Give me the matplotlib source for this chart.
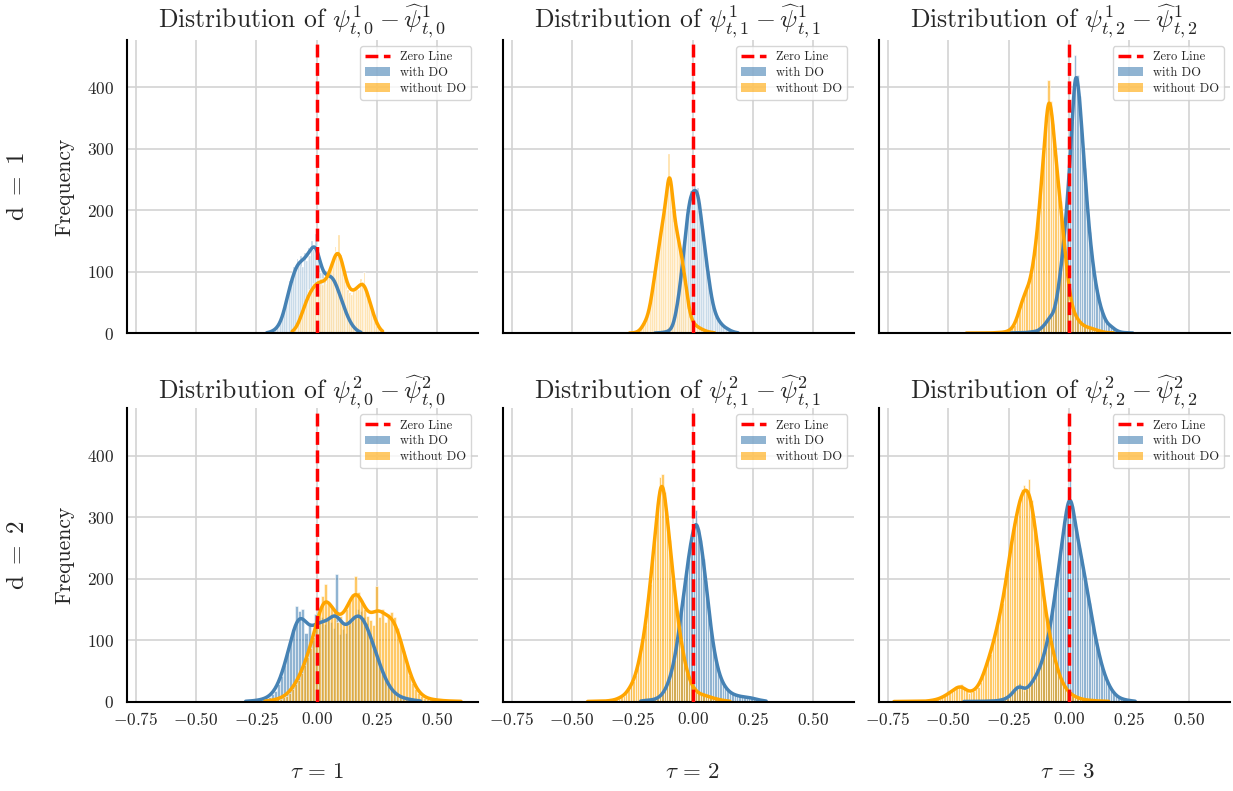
import numpy as np
import seaborn as sns
import matplotlib.pyplot as plt
from matplotlib.lines import Line2D
from matplotlib.patches import Patch

# histogram counts; *_start = left edge of first bin
# d = 1, tau = 1
w_d1_t1_start = -0.21
w_d1_t1 = [1, 1, 2, 3, 5, 6, 9, 14, 18, 30, 38, 55, 68, 85, 80, 108, 102, 120, 112, 125,
           108, 130, 118, 138, 126, 150, 135, 162, 140, 120, 98, 104, 88, 97, 90, 100, 88, 96, 80, 76,
           64, 58, 48, 40, 30, 25, 18, 13, 9, 6, 4, 2, 1]
wo_d1_t1_start = -0.105
wo_d1_t1 = [1, 3, 6, 10, 18, 28, 38, 46, 55, 64, 70, 68, 80, 76, 90, 82, 88, 78, 86, 80,
            92, 100, 112, 120, 140, 132, 160, 128, 110, 92, 80, 70, 66, 62, 72, 68, 76, 70, 88, 84,
            98, 72, 58, 48, 40, 30, 20, 12, 7, 3, 1]

# d = 1, tau = 2
w_d1_t2_start = -0.16
w_d1_t2 = [1, 0, 1, 1, 1, 2, 2, 3, 4, 7, 12, 22, 40, 55, 80, 104, 135, 162, 196, 210,
           232, 226, 240, 228, 236, 198, 180, 150, 128, 106, 86, 62, 48, 36, 28, 22, 18, 14, 12, 8,
           9, 5, 4, 3, 2, 1, 1]
wo_d1_t2_start = -0.265
wo_d1_t2 = [1, 0, 1, 1, 2, 3, 6, 10, 16, 20, 28, 38, 56, 75, 96, 118, 138, 158, 172, 196,
            210, 238, 292, 248, 214, 180, 168, 154, 140, 125, 102, 82, 56, 38, 24, 18, 14, 12, 10, 8,
            7, 5, 4, 3, 2, 2, 1, 1]

# d = 1, tau = 3
w_d1_t3_start = -0.26
w_d1_t3 = [1, 0, 1, 0, 1, 1, 1, 1, 1, 2, 2, 3, 3, 5, 8, 12, 16, 24, 28, 30,
           45, 66, 100, 130, 175, 220, 280, 345, 452, 420, 385, 325, 268, 215, 165, 128, 96, 72, 53, 38,
           28, 18, 14, 12, 8, 5, 3, 2, 1, 1, 1, 0, 1]
wo_d1_t3_start = -0.43
wo_d1_t3 = [1, 0, 0, 1, 0, 0, 1, 0, 1, 1, 0, 1, 1, 1, 1, 2, 2, 3, 5, 8,
            14, 24, 38, 52, 62, 72, 78, 96, 118, 150, 190, 238, 290, 340, 412, 378, 340, 290, 245, 215,
            172, 130, 90, 60, 40, 30, 24, 18, 14, 12, 10, 9, 8, 7, 5, 4, 3, 2, 1, 1, 1, 1]

# d = 2, tau = 1
w_d2_t1_start = -0.30
w_d2_t1 = [1, 1, 1, 2, 2, 3, 4, 6, 8, 12, 18, 28, 42, 60, 78, 100, 118, 155, 148, 150,
           112, 128, 100, 142, 120, 138, 126, 132, 130, 120, 208, 110, 118, 112, 124, 130, 140, 150, 148, 138,
           128, 112, 100, 82, 66, 52, 38, 28, 20, 14, 10, 8, 6, 5, 4, 3, 2, 2, 1]
wo_d2_t1_start = -0.22
wo_d2_t1 = [1, 1, 2, 3, 4, 5, 7, 10, 14, 20, 28, 36, 46, 60, 72, 88, 105, 120, 150, 172,
            192, 160, 155, 148, 130, 140, 128, 150, 162, 175, 205, 178, 165, 150, 140, 132, 125, 188, 138, 150,
            130, 142, 145, 138, 120, 100, 82, 62, 44, 30, 20, 14, 9, 6, 5, 4, 3, 3, 2, 2,
            1, 1, 1, 1, 1, 1]

# d = 2, tau = 2
w_d2_t2_start = -0.22
w_d2_t2 = [1, 2, 2, 2, 3, 3, 4, 6, 8, 12, 18, 26, 36, 50, 68, 90, 118, 150, 182, 210,
           240, 265, 285, 312, 280, 262, 232, 196, 158, 122, 92, 70, 52, 40, 30, 24, 19, 15, 13, 11,
           10, 9, 8, 8, 7, 7, 6, 5, 4, 3, 2, 2, 1]
wo_d2_t2_start = -0.44
wo_d2_t2 = [1, 0, 1, 1, 1, 1, 1, 1, 1, 2, 2, 3, 4, 6, 8, 10, 14, 20, 26, 34,
            44, 60, 80, 98, 125, 158, 192, 235, 270, 312, 365, 370, 340, 300, 262, 220, 182, 148, 118, 92,
            70, 52, 38, 28, 22, 17, 14, 12, 11, 10, 9, 7, 6, 5, 4, 3, 2, 2, 1, 1]

# d = 2, tau = 3
w_d2_t3_start = -0.44
w_d2_t3 = [1, 0, 1, 0, 1, 0, 1, 1, 0, 1, 1, 1, 1, 1, 2, 2, 3, 4, 6, 9,
           12, 18, 26, 30, 22, 18, 20, 24, 30, 36, 42, 50, 60, 72, 85, 104, 125, 150, 180, 210,
           240, 268, 300, 320, 382, 318, 290, 265, 250, 232, 205, 185, 160, 135, 115, 95, 76, 60, 47, 36,
           27, 20, 14, 10, 7, 5, 4, 3, 2, 2, 1, 1]
wo_d2_t3_start = -0.73
wo_d2_t3 = [1, 0, 0, 1, 0, 0, 1, 0, 1, 0, 1, 1, 0, 1, 1, 2, 2, 3, 4, 5,
            7, 9, 12, 14, 17, 20, 24, 26, 28, 22, 18, 14, 16, 17, 20, 24, 32, 42, 55, 68,
            78, 92, 108, 125, 142, 160, 182, 210, 240, 268, 290, 305, 330, 345, 352, 342, 362, 328, 300, 270,
            240, 205, 172, 140, 118, 100, 80, 62, 48, 38, 28, 22, 17, 13, 10, 8, 7, 5, 4, 3,
            3, 2, 2, 2, 1, 1, 1, 1, 1, 1]

bin_widths = [[0.0075, 0.0075, 0.01], [0.0125, 0.01, 0.01]]
edge_widths = [[1.25, 1.25, 0.8], [0.6, 0.7, 0.7]]

series = [
    [(w_d1_t1_start, w_d1_t1, wo_d1_t1_start, wo_d1_t1),
     (w_d1_t2_start, w_d1_t2, wo_d1_t2_start, wo_d1_t2),
     (w_d1_t3_start, w_d1_t3, wo_d1_t3_start, wo_d1_t3)],
    [(w_d2_t1_start, w_d2_t1, wo_d2_t1_start, wo_d2_t1),
     (w_d2_t2_start, w_d2_t2, wo_d2_t2_start, wo_d2_t2),
     (w_d2_t3_start, w_d2_t3, wo_d2_t3_start, wo_d2_t3)],
]

xticks = [-0.75, -0.5, -0.25, 0.0, 0.25, 0.5]
yticks = [0, 100, 200, 300, 400]

sns.set_style('whitegrid')
plt.rcParams['font.family'] = 'serif'
plt.rcParams['font.serif'] = ['cmr10']
plt.rcParams['mathtext.fontset'] = 'cm'
plt.rcParams['axes.formatter.use_mathtext'] = True


def draw_hist(ax, start, counts, bw, color, elw):
    counts = np.asarray(counts, dtype=float)
    edges = start + bw * np.arange(len(counts) + 1)
    centers = edges[:-1] + bw / 2
    ax.hist(centers, bins=edges, weights=counts, color=color, alpha=0.6,
            edgecolor='white', linewidth=elw)
    # gaussian kde (scott bandwidth on the raw sample count), scaled to counts like seaborn
    n = counts.sum()
    mean = (counts * centers).sum() / n
    sd = np.sqrt((counts * (centers - mean) ** 2).sum() / (n - 1))
    h = sd * n ** (-0.2)
    grid = np.linspace(centers[0], centers[-1], 300)
    k = np.exp(-0.5 * ((grid[:, None] - centers[None, :]) / h) ** 2) / (np.sqrt(2 * np.pi) * h)
    curve = (k * counts[None, :]).sum(axis=1) * bw
    ax.plot(grid, curve, color=color, linewidth=2.5)


fig = plt.figure(figsize=(12.33, 7.91), dpi=100)
col_left = [126.7, 502.7, 879.0]
row_bottom = [333.3, 701.7]
W, H = 351.0, 293.5
FW, FH = 1233.0, 791.0

for r in range(2):
    for c in range(3):
        ax = fig.add_axes([col_left[c] / FW, 1 - row_bottom[r] / FH, W / FW, H / FH])
        ws, wc, os_, oc = series[r][c]
        draw_hist(ax, ws, wc, bin_widths[r][c], 'steelblue', edge_widths[r][c])
        draw_hist(ax, os_, oc, bin_widths[r][c], 'orange', edge_widths[r][c])
        ax.axvline(0, color='red', linestyle='--', linewidth=2.5, zorder=5)

        ax.set_xlim(-0.787, 0.668)
        ax.set_ylim(0, 477)
        ax.set_xticks(xticks)
        ax.set_yticks(yticks)
        ax.set_axisbelow(True)
        ax.grid(True, color='#d3d3d3', linewidth=1.2)
        ax.tick_params(axis='both', length=0, labelsize=12.5)
        ax.tick_params(axis='y', pad=9)
        ax.tick_params(axis='x', pad=7)
        ax.spines['top'].set_visible(False)
        ax.spines['right'].set_visible(False)
        for s in ['left', 'bottom']:
            ax.spines[s].set_color('black')
            ax.spines[s].set_linewidth(1.5)

        ax.set_title(r'Distribution of $\psi^{%d}_{t,%d} - \widehat{\psi}^{%d}_{t,%d}$' % (r + 1, c, r + 1, c),
                     fontsize=18.5, pad=7)
        if c == 0:
            ax.set_ylabel('Frequency', fontsize=15.5)
            ax.yaxis.set_label_coords(-0.15, 0.5)
        else:
            ax.tick_params(labelleft=False)
        if r == 0:
            ax.tick_params(labelbottom=False)

        handles = [Line2D([0], [0], color='red', linestyle='--', linewidth=2.5),
                   Patch(facecolor='steelblue', alpha=0.6, edgecolor='none'),
                   Patch(facecolor='orange', alpha=0.6, edgecolor='none')]
        ax.legend(handles, ['Zero Line', 'with DO', 'without DO'], loc='upper right',
                  fontsize=9, labelspacing=0.3)

for r in range(2):
    yc = 1 - (row_bottom[r] - H / 2) / FH
    fig.text(18 / FW, yc, r'$\mathrm{d}\ =\ %d$' % (r + 1), rotation=90, fontsize=18,
             ha='center', va='center')

for c, xc in enumerate([317, 692, 1068]):
    fig.text(xc / FW, 19 / FH, r'$\tau\,=\,%d$' % (c + 1), fontsize=16.5, ha='center', va='center')

fig.savefig('out.png', dpi=100)
